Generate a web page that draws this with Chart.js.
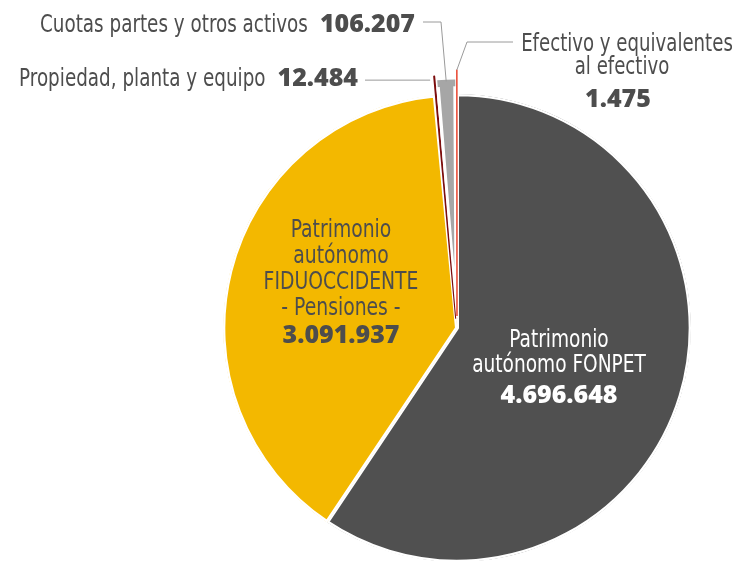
<!DOCTYPE html>
<html>
<head>
<meta charset="utf-8">
<script src="https://cdn.jsdelivr.net/npm/chart.js@4"></script>
<style>
  html, body { margin: 0; padding: 0; background: #fff; }
  #wrap { width: 737px; height: 561px; position: relative; }
</style>
</head>
<body>
<div id="wrap"><canvas id="chart"></canvas></div>
<script>
// data (millones)
const categories = [
  'Patrimonio autónomo FONPET',
  'Patrimonio autónomo FIDUOCCIDENTE - Pensiones -',
  'Propiedad, planta y equipo',
  'Cuotas partes y otros activos',
  'Efectivo y equivalentes al efectivo'
];
const values = [4696648, 3091937, 12484, 106207, 1475];
const colors = ['#505050', '#f3b800', '#7c0d0d', '#a6a6a6', '#e8432d'];

const TEXT = '#4d4d4d';
const LABEL_FONT = '"DejaVu Sans Condensed", "DejaVu Sans", sans-serif';
const NUM_FONT = '"Open Sans", "DejaVu Sans", sans-serif';

const fmt = v => String(v).replace(/\B(?=(\d{3})+(?!\d))/g, '.');

// tip of an arc at its middle angle, following Chart.js offset handling
function tip(arc) {
  const mid = (arc.startAngle + arc.endAngle) / 2;
  const o = (arc.options.offset || 0) / 4;
  const fix = 1 - Math.sin(Math.min(Math.PI, arc.circumference));
  const r = arc.outerRadius + o + o * fix;
  return { x: arc.x + Math.cos(mid) * r, y: arc.y + Math.sin(mid) * r };
}

// the original label face is narrower than anything installed, so squeeze it
function squeezed(ctx, text, x, y, align, sx) {
  ctx.save();
  ctx.translate(x, y);
  ctx.scale(sx, 1);
  ctx.textAlign = align;
  ctx.fillText(text, 0, 0);
  ctx.restore();
}

function lines(ctx, lns, xs, y0, step, size, sx, color) {
  ctx.font = size + 'px ' + LABEL_FONT;
  ctx.fillStyle = color;
  lns.forEach((t, i) => squeezed(ctx, t, xs[i] ?? xs[0], y0 + i * step, 'center', sx));
}

function number(ctx, v, x, y, color, align) {
  ctx.font = '800 25px ' + NUM_FONT;
  ctx.fillStyle = color;
  ctx.textAlign = align || 'center';
  ctx.fillText(fmt(v), x, y);
  return ctx.measureText(fmt(v)).width;
}

const labelsPlugin = {
  id: 'labels',
  afterDatasetsDraw(chart) {
    const ctx = chart.ctx;
    const arcs = chart.getDatasetMeta(0).data;
    const cx = arcs[0].x, cy = arcs[0].y;
    ctx.save();
    ctx.textBaseline = 'alphabetic';

    // inside labels
    lines(ctx, ['Patrimonio', 'autónomo FONPET'], [cx + 102], cy + 19, 25, 24, 0.86, '#fff');
    number(ctx, values[0], cx + 102, cy + 75, '#fff');

    lines(ctx, ['Patrimonio', 'autónomo', 'FIDUOCCIDENTE', '- Pensiones -'], [cx - 116], cy - 91, 26, 24, 0.87, TEXT);
    number(ctx, values[1], cx - 116, cy + 15, TEXT);

    // leader lines
    ctx.strokeStyle = '#9a9a9a';
    ctx.lineWidth = 1;
    let p = tip(arcs[3]);
    ctx.beginPath();
    ctx.moveTo(p.x, p.y + 2);
    ctx.lineTo(cx - 16, cy - 306);
    ctx.lineTo(cx - 34, cy - 306);
    ctx.stroke();

    p = tip(arcs[4]);
    ctx.beginPath();
    ctx.moveTo(p.x, p.y);
    ctx.lineTo(cx + 10, cy - 286);
    ctx.lineTo(cx + 56, cy - 286);
    ctx.stroke();

    p = tip(arcs[2]);
    ctx.beginPath();
    ctx.moveTo(p.x - 4, p.y + 4);
    ctx.lineTo(cx - 92, p.y + 4);
    ctx.stroke();

    // outside labels: text + bold number on one row
    function row(text, value, right, base) {
      const w = number(ctx, value, right, base, TEXT, 'right');
      ctx.font = '24px ' + LABEL_FONT;
      squeezed(ctx, text, right - w - 12, base, 'right', 0.85);
    }
    row(categories[3], values[3], cx - 42, cy - 296);
    row(categories[2], values[2], cx - 99, cy - 242);

    lines(ctx, ['Efectivo y equivalentes', 'al efectivo'], [cx + 170, cx + 165], cy - 277, 23, 24, 0.84, TEXT);
    number(ctx, values[4], cx + 161, cy - 221, TEXT);

    ctx.restore();
  }
};

new Chart(document.getElementById('chart'), {
  type: 'pie',
  data: {
    labels: categories,
    datasets: [{
      data: values,
      backgroundColor: colors,
      borderColor: ['#fff', '#fff', '#7c0d0d', '#fff', '#e8432d'],
      borderWidth: [2, 2, 2, 2, 1.5],
      borderAlign: ['inner', 'inner', 'center', 'inner', 'center'],
      offset: [0, 0, 38, 31, 48]
    }]
  },
  options: {
    responsive: true,
    maintainAspectRatio: false,
    animation: false,
    radius: 234,
    layout: { padding: { left: 177, top: 95, right: 0, bottom: 0 } },
    plugins: {
      legend: { display: false },
      tooltip: { enabled: false }
    },
    events: []
  },
  plugins: [labelsPlugin]
});
</script>
</body>
</html>
